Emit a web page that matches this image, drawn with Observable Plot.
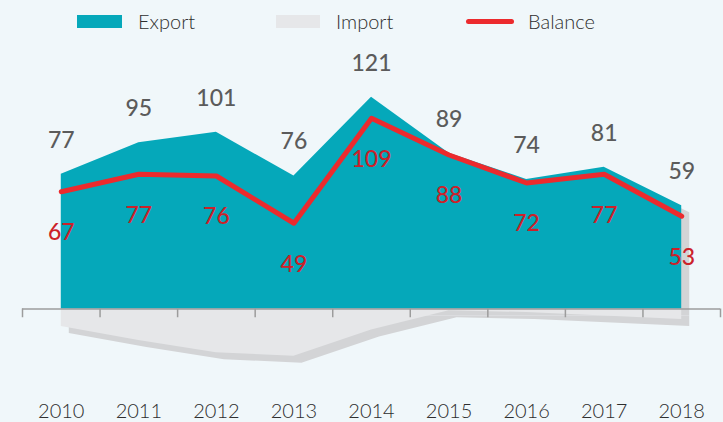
<!DOCTYPE html>
<html><head><meta charset="utf-8">
<script src="https://cdn.jsdelivr.net/npm/d3@7"></script>
<script src="https://cdn.jsdelivr.net/npm/@observablehq/plot@0.6"></script>
<style>
html,body{margin:0;padding:0;background:#f0f7fa;font-family:Lato,sans-serif;}
#legend{position:relative;height:40px;width:723px;}
#legend .sw{position:absolute;}
#legend .lb{position:absolute;top:9px;font-size:20px;line-height:24px;color:#2e2e2e;font-weight:300;}
</style></head><body>
<div id="legend">
  <div class="sw" style="left:77px;top:15px;width:45px;height:13px;background:#05a8ba"></div>
  <div class="lb" style="left:138px">Export</div>
  <div class="sw" style="left:276px;top:15px;width:44px;height:13px;background:#e6e7e9"></div>
  <div class="lb" style="left:336px">Import</div>
  <div class="sw" style="left:466px;top:19px;width:48px;height:5px;border-radius:3px;background:#ec2a2d"></div>
  <div class="lb" style="left:528px">Balance</div>
</div>
<div id="chart"></div>
<script>
const years = [2010, 2011, 2012, 2013, 2014, 2015, 2016, 2017, 2018];
const exportVals = [77, 95, 101, 76, 121, 89, 74, 81, 59];
const importVals = [10, 18, 25, 27, 12, 1, 2, 4, 6];
const balanceVals = [67, 77, 76, 49, 109, 88, 72, 77, 53];

const data = years.map((y, i) => ({year: y, exp: exportVals[i], imp: -importVals[i], bal: balanceVals[i]}));
const bounds = [years[0] - 0.5, ...years.map(y => y + 0.5)];

const chart = Plot.plot({
  width: 723,
  height: 382,
  marginLeft: 22,
  marginRight: 3,
  marginTop: 6,
  marginBottom: 26,
  x: {domain: [years[0] - 0.5, years[years.length - 1] + 0.5]},
  y: {domain: [-50, 150], axis: null},
  style: {background: "transparent", fontFamily: "Lato, sans-serif", fontSize: "20px", color: "#2e2e2e", overflow: "visible"},
  marks: [
    Plot.areaY(data, {x: "year", y: "exp", fill: "#d3d4d6", dx: 8, dy: 7}),
    Plot.areaY(data, {x: "year", y: "imp", fill: "#d3d4d6", dx: 8, dy: 7}),
    Plot.areaY(data, {x: "year", y: "imp", fill: "#e6e7e9"}),
    Plot.areaY(data, {x: "year", y: "exp", fill: "#05a8ba"}),
    Plot.ruleY([0], {stroke: "#9c9c9c", strokeWidth: 1.5}),
    Plot.ruleX(bounds, {y1: 0, y2: -5, stroke: "#9c9c9c", strokeWidth: 1.5}),
    Plot.line(data, {x: "year", y: "bal", stroke: "#ec2a2d", strokeWidth: 5, strokeLinecap: "round"}),
    Plot.text(data, {x: "year", y: "exp", text: "exp", dy: -34, fill: "#5b5b5b", fontSize: 23, fontWeight: 500}),
    Plot.text(data, {x: "year", y: "bal", text: "bal", dy: 41, fill: "#cc2129", fontSize: 23, fontWeight: 500}),
    Plot.axisX({ticks: years, tickFormat: d => String(d), tickSize: 0, tickPadding: 7, label: null, fontSize: 20, fontWeight: 300, fill: "#2e2e2e"})
  ]
});
document.getElementById("chart").appendChild(chart);
</script>
</body></html>
